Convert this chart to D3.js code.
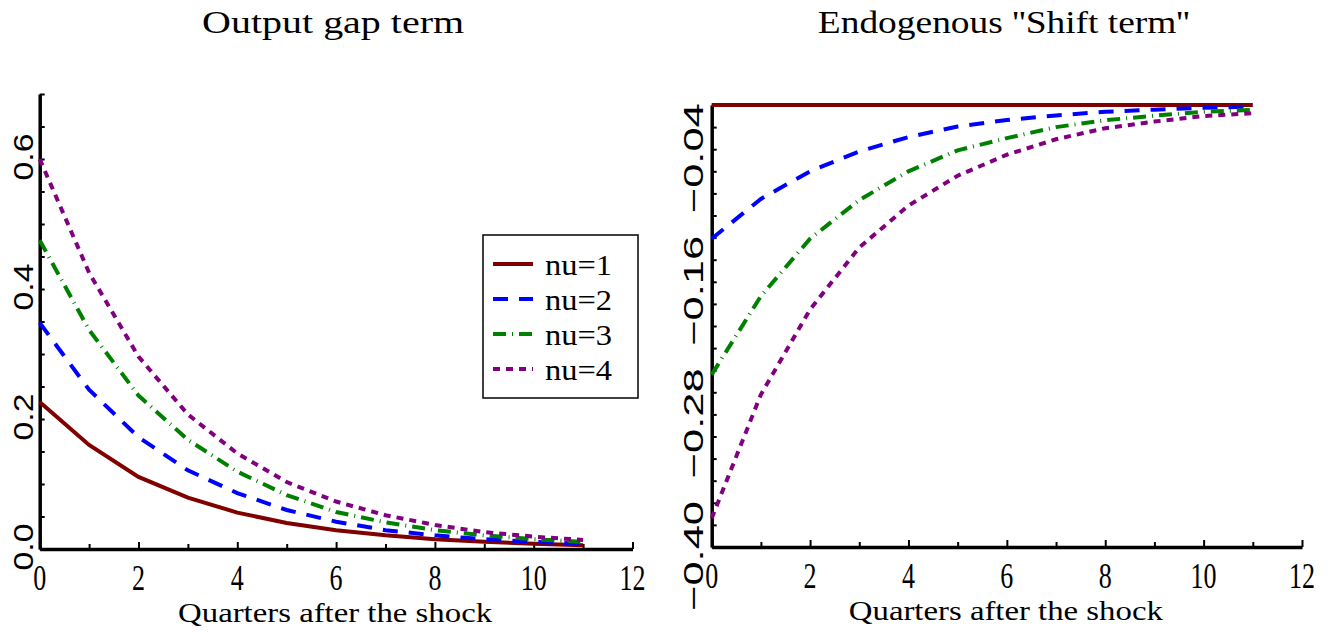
<!DOCTYPE html>
<html>
<head>
<meta charset="utf-8">
<script src="https://cdnjs.cloudflare.com/ajax/libs/d3/7.8.5/d3.min.js"></script>
<style>
  body { margin: 0; background: #fff; }
  .serif { font-family: "Liberation Serif", "DejaVu Serif", serif; fill: #000; }
  .sans { font-family: "Liberation Sans", Arial, sans-serif; fill: #000; }
</style>
</head>
<body>
<svg id="chart"></svg>
<script>
const svgWidth = 1334,
    svgHeight = 632;

// data
const quarters = [0, 1, 2, 3, 4, 5, 6, 7, 8, 9, 10, 11];
const seriesNames = ["nu=1", "nu=2", "nu=3", "nu=4"];

// output gap term
const gapNu1 = [0.226, 0.160, 0.111, 0.079, 0.056, 0.040, 0.029, 0.021, 0.015, 0.011, 0.008, 0.0056];
const gapNu2 = [0.348, 0.245, 0.172, 0.121, 0.086, 0.060, 0.042, 0.029, 0.021, 0.015, 0.011, 0.008];
const gapNu3 = [0.475, 0.337, 0.236, 0.168, 0.119, 0.083, 0.057, 0.041, 0.029, 0.021, 0.015, 0.011];
const gapNu4 = [0.600, 0.425, 0.296, 0.207, 0.147, 0.103, 0.073, 0.052, 0.037, 0.026, 0.019, 0.014];

// endogenous shift term
const shiftNu1 = [0, 0, 0, 0, 0, 0, 0, 0, 0, 0, 0, 0];
const shiftNu2 = [-0.121, -0.085, -0.060, -0.042, -0.029, -0.0195, -0.0136, -0.0094, -0.0062, -0.0042, -0.0026, -0.0014];
const shiftNu3 = [-0.244, -0.173, -0.121, -0.086, -0.060, -0.041, -0.030, -0.020, -0.0138, -0.0097, -0.0062, -0.0045];
const shiftNu4 = [-0.374, -0.262, -0.185, -0.129, -0.091, -0.064, -0.045, -0.031, -0.021, -0.015, -0.010, -0.0075];

// tick labels
const xTickLabels = [0, 2, 4, 6, 8, 10, 12];
const gapTickLabels = [0.0, 0.2, 0.4, 0.6];
const shiftTickLabels = [-0.04, -0.16, -0.28, -0.40];

// line styles per series
const colors = ["#800000", "#0000ff", "#008000", "#800080"];
const dashes = [null, "15,11", "13,6,1,6", "7,6"];

const chart = d3.select("#chart")
    .attr("width", svgWidth)
    .attr("height", svgHeight);

const panels = [
    {
        title: "Output gap term", titleLen: 262,
        series: [gapNu1, gapNu2, gapNu3, gapNu4],
        x: d3.scaleLinear().domain([0, 12]).range([39.7, 632.5]),
        y: d3.scaleLinear().domain([0, 0.7]).range([549, 94]),
        yTicks: d3.range(0, 0.7001, 0.05),
        yLabels: gapTickLabels, yFormat: d3.format(".1f"),
        labelX: 33, labelLen: 47, labelShift: -2,
        legend: true
    },
    {
        title: "Endogenous ''Shift term''", titleLen: 372,
        series: [shiftNu1, shiftNu2, shiftNu3, shiftNu4],
        x: d3.scaleLinear().domain([0, 12]).range([711.7, 1302]),
        y: d3.scaleLinear().domain([-0.40, 0]).range([547, 105]),
        yTicks: d3.range(-0.40, 0.0001, 0.02),
        yLabels: shiftTickLabels, yFormat: d => d3.format(".2f")(d).replace("-", "\u2212"),
        labelX: 703, labelLen: 110, labelShift: 9,
        legend: false
    }
];

panels.forEach(function(p) {
    const g = chart.append("g");
    const x = p.x, y = p.y;
    const x0 = x.range()[0], x1 = x.range()[1];
    const yb = y.range()[0], yt = y.range()[1];

    // title
    g.append("text")
        .attr("class", "serif")
        .attr("x", (x0 + x1) / 2 - 3)
        .attr("y", 33)
        .attr("text-anchor", "middle")
        .attr("textLength", p.titleLen)
        .attr("lengthAdjust", "spacingAndGlyphs")
        .style("font-size", "32px")
        .text(p.title);

    // x axis, ticks pointing inside
    const xAxis = d3.axisBottom(x)
        .tickValues(quarters.concat([12]))
        .tickSizeInner(-6)
        .tickSizeOuter(0)
        .tickFormat("");
    const xg = g.append("g")
        .attr("transform", "translate(0," + yb + ")")
        .call(xAxis);
    xg.select(".domain").attr("stroke-width", 3.5);
    xg.selectAll(".tick line").attr("stroke-width", 2)
        .attr("y2", d => d % 2 ? -5 : -7);

    g.selectAll(".xlab")
        .data(xTickLabels)
        .enter()
        .append("text")
        .attr("class", "serif")
        .attr("x", d => x(d))
        .attr("y", yb + 41)
        .attr("text-anchor", "middle")
        .attr("textLength", d => String(d).length * 13)
        .attr("lengthAdjust", "spacingAndGlyphs")
        .style("font-size", "35px")
        .text(d => d);

    g.append("text")
        .attr("class", "serif")
        .attr("x", (x0 + x1) / 2 - 1)
        .attr("y", yb + 73)
        .attr("text-anchor", "middle")
        .attr("textLength", 314)
        .attr("lengthAdjust", "spacingAndGlyphs")
        .style("font-size", "28px")
        .text("Quarters after the shock");

    // y axis, ticks pointing inside
    const yAxis = d3.axisLeft(y)
        .tickValues(p.yTicks)
        .tickSizeInner(-5)
        .tickSizeOuter(0)
        .tickFormat("");
    const yg = g.append("g")
        .attr("transform", "translate(" + x0 + ",0)")
        .call(yAxis);
    yg.select(".domain").attr("stroke-width", 3.5);
    yg.selectAll(".tick line").attr("stroke-width", 2);

    g.selectAll(".ylab")
        .data(p.yLabels)
        .enter()
        .append("text")
        .attr("class", "sans")
        .attr("transform", d => "translate(" + p.labelX + "," + (y(d) + p.labelShift) + ") rotate(-90)")
        .attr("text-anchor", "middle")
        .attr("textLength", p.labelLen)
        .attr("lengthAdjust", "spacingAndGlyphs")
        .style("font-size", "28px")
        .text(p.yFormat);

    // the curves
    const line = d3.line()
        .x((d, i) => x(quarters[i]))
        .y(d => y(d))
        .curve(d3.curveLinear);

    p.series.forEach(function(s, i) {
        g.append("path")
            .datum(s)
            .attr("d", line)
            .attr("fill", "none")
            .attr("stroke", colors[i])
            .attr("stroke-width", 4)
            .attr("stroke-dasharray", dashes[i]);
    });

    if (p.legend) {
        const lg = g.append("g");
        lg.append("rect")
            .attr("x", 483).attr("y", 235)
            .attr("width", 155).attr("height", 163)
            .attr("fill", "#fff")
            .attr("stroke", "#000")
            .attr("stroke-width", 1.5);
        seriesNames.forEach(function(name, i) {
            const ly = 264 + i * 35;
            lg.append("line")
                .attr("x1", 493).attr("x2", 533)
                .attr("y1", ly).attr("y2", ly)
                .attr("stroke", colors[i])
                .attr("stroke-width", 4)
                .attr("stroke-dasharray", dashes[i]);
            lg.append("text")
                .attr("class", "serif")
                .attr("x", 545)
                .attr("y", ly + 11)
                .attr("textLength", 67)
                .attr("lengthAdjust", "spacingAndGlyphs")
                .style("font-size", "29px")
                .text(name);
        });
    }
});
</script>
</body>
</html>
